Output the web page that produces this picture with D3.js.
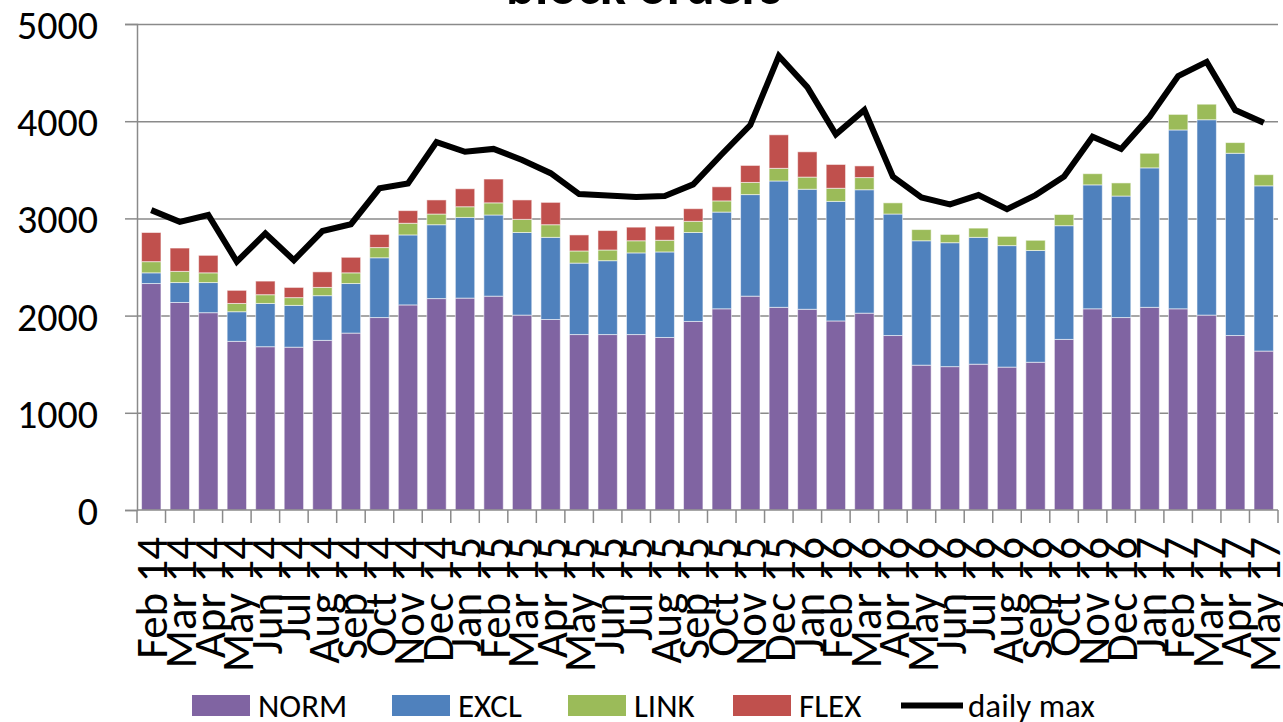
<!DOCTYPE html>
<html>
<head>
<meta charset="utf-8">
<script src="https://cdn.jsdelivr.net/npm/d3@7"></script>
<style>
  body { margin: 0; background: #fff; }
  svg { display: block; font-family: Carlito, Lato, sans-serif; }
</style>
</head>
<body>
<svg id="chart" width="1283" height="722"></svg>
<script>
var MONTHS = ["Feb 14","Mar 14","Apr 14","May 14","Jun 14","Jul 14","Aug 14","Sep 14","Oct 14","Nov 14","Dec 14",
  "Jan 15","Feb 15","Mar 15","Apr 15","May 15","Jun 15","Jul 15","Aug 15","Sep 15","Oct 15","Nov 15","Dec 15",
  "Jan 16","Feb 16","Mar 16","Apr 16","May 16","Jun 16","Jul 16","Aug 16","Sep 16","Oct 16","Nov 16","Dec 16",
  "Jan 17","Feb 17","Mar 17","Apr 17","May 17"];

var NORM = [2330,2135,2030,1735,1680,1675,1745,1820,1980,2110,2175,2180,2200,2005,1960,1805,1805,1805,1775,1940,
  2070,2200,2085,2065,1945,2025,1795,1490,1475,1500,1470,1520,1755,2070,1980,2085,2070,2005,1795,1635];
var EXCL = [110,205,310,305,445,430,460,510,615,720,760,830,835,850,845,735,760,840,880,915,
  995,1045,1300,1235,1230,1270,1250,1280,1275,1305,1250,1150,1170,1275,1250,1435,1840,2010,1875,1700];
var LINK = [115,115,100,85,90,80,85,110,105,120,110,110,125,135,130,125,110,125,120,115,
  115,125,130,125,135,125,115,115,85,95,95,105,115,115,135,150,160,160,110,115];
var FLEX = [300,240,180,135,140,105,160,160,135,130,145,185,245,200,230,165,200,140,145,130,
  145,175,345,260,245,120,0,0,0,0,0,0,0,0,0,0,0,0,0,0];
var DAILY_MAX = [3085,2965,3035,2555,2845,2570,2870,2940,3310,3360,3785,3685,3715,3600,3465,3250,3235,3220,3230,3350,
  3660,3960,4670,4350,3865,4115,3430,3215,3145,3240,3095,3240,3430,3840,3715,4045,4465,4610,4115,3985];

var SERIES = ["NORM","EXCL","LINK","FLEX"];
var LEGEND_ITEMS = ["NORM","EXCL","LINK","FLEX","daily max"];
var Y_TICKS = [0,1000,2000,3000,4000,5000];

var color = {
  NORM: "#8064a2",
  EXCL: "#4f81bd",
  LINK: "#9bbb59",
  FLEX: "#c0504d"
};
var GRID = "#8a8a8a";

var svg = d3.select("#chart"),
    plotLeft = 137, plotRight = 1278, plotTop = 24, plotBottom = 510;

var rows = MONTHS.map(function(m, i){
  return { month: m, NORM: NORM[i], EXCL: EXCL[i], LINK: LINK[i], FLEX: FLEX[i], max: DAILY_MAX[i] };
});

var x = d3.scaleBand().domain(MONTHS).range([plotLeft, plotRight]).paddingInner(0.32).paddingOuter(0.16);
var y = d3.scaleLinear().domain([0, 5000]).range([plotBottom, plotTop]);

// gridlines + y axis
svg.append("g")
   .attr("transform", "translate(" + plotLeft + ",0)")
   .call(d3.axisLeft(y).tickValues(Y_TICKS).tickSize(12).tickFormat(d3.format("d")))
   .call(function(g){
     g.select(".domain").attr("stroke", GRID).attr("stroke-width", 1.5);
     g.selectAll(".tick line").attr("stroke", GRID).attr("stroke-width", 1.5);
     g.selectAll(".tick").filter(function(d){ return d > 0; })
      .append("line")
      .attr("x1", 0).attr("x2", plotRight - plotLeft)
      .attr("stroke", GRID).attr("stroke-width", 1.5);
     g.selectAll(".tick text")
      .attr("x", -39).attr("dy", "0.36em")
      .attr("fill", "#000")
      .style("font-size", "40px")
      .style("font-family", "Carlito, Lato, sans-serif");
   });

// stacked bars
var stack = d3.stack().keys(SERIES)(rows);

svg.append("g")
   .selectAll("g")
   .data(stack)
   .enter().append("g")
   .attr("fill", function(d){ return color[d.key]; })
   .selectAll("rect")
   .data(function(d){ return d.filter(function(s){ return s[1] - s[0] > 0; }); })
   .enter().append("rect")
   .attr("x", function(d){ return x(d.data.month); })
   .attr("width", x.bandwidth())
   .attr("y", function(d){ return y(d[1]); })
   .attr("height", function(d){ return y(d[0]) - y(d[1]); })
   .attr("stroke", "rgba(255,255,255,0.55)")
   .attr("stroke-width", 1);

// x axis: ticks on category boundaries
var xAxis = svg.append("g");
xAxis.append("line")
     .attr("x1", plotLeft).attr("x2", plotRight)
     .attr("y1", plotBottom).attr("y2", plotBottom)
     .attr("stroke", GRID).attr("stroke-width", 1.5);

var step = x.step();
xAxis.selectAll("line.tick")
     .data(d3.range(MONTHS.length + 1))
     .enter().append("line")
     .attr("class", "tick")
     .attr("x1", function(i){ return plotLeft + i * step; })
     .attr("x2", function(i){ return plotLeft + i * step; })
     .attr("y1", plotBottom).attr("y2", plotBottom + 13)
     .attr("stroke", GRID).attr("stroke-width", 1.5);

xAxis.selectAll("text")
     .data(MONTHS)
     .enter().append("text")
     .attr("transform", function(d){
       return "translate(" + (x(d) + x.bandwidth() / 2) + "," + (plotBottom + 27) + ") rotate(-90)";
     })
     .attr("text-anchor", "end")
     .attr("dy", "0.36em")
     .style("font-size", "45px")
     .text(function(d){ return d; });

// daily max line
var line = d3.line()
    .x(function(d){ return x(d.month) + x.bandwidth() / 2; })
    .y(function(d){ return y(d.max); });

svg.append("path")
   .datum(rows)
   .attr("d", line)
   .attr("fill", "none")
   .attr("stroke", "#000")
   .attr("stroke-width", 6)
   .attr("stroke-linejoin", "miter");

// title (mostly cut off at the top)
svg.append("text")
   .attr("x", 644)
   .attr("y", 4)
   .attr("text-anchor", "middle")
   .style("font-size", "54px")
   .style("font-weight", "bold")
   .text("block orders");

// legend - x positions of each entry as in the original
var legendX = [192, 392, 568, 733, 901],
    ly = 695;
var legend = svg.append("g");
LEGEND_ITEMS.forEach(function(name, i){
  var lx = legendX[i];
  if (color[name]) {
    legend.append("rect")
          .attr("x", lx).attr("y", ly)
          .attr("width", 58).attr("height", 21)
          .attr("fill", color[name]);
    lx += 66;
  } else {
    legend.append("line")
          .attr("x1", lx).attr("x2", lx + 62)
          .attr("y1", ly + 10.5).attr("y2", ly + 10.5)
          .attr("stroke", "#000").attr("stroke-width", 6);
    lx += 67;
  }
  legend.append("text")
        .attr("x", lx).attr("y", ly + 22)
        .style("font-size", "33px")
        .text(name);
});
</script>
</body>
</html>
